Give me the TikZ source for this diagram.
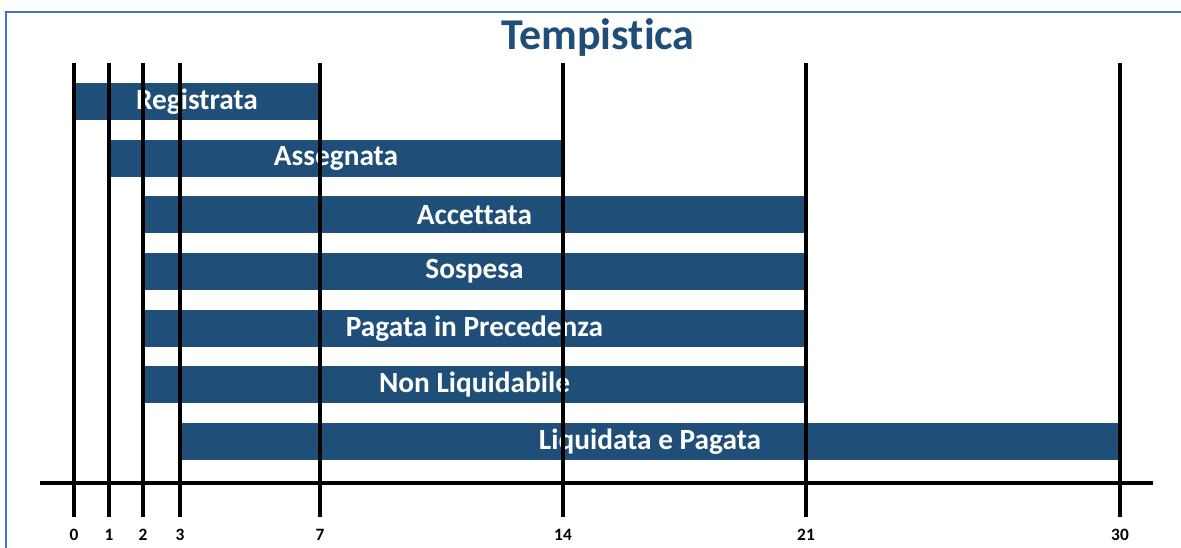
\documentclass[tikz,border=0pt]{standalone}
\usepackage{fontspec}
\setmainfont{Carlito}[Ligatures=NoCommon]
\usepackage{tikz}
\usetikzlibrary{calc,positioning}
\definecolor{darkblue}{HTML}{1F4E79}
\definecolor{frameblue}{HTML}{4472C4}

\begin{document}
\begin{tikzpicture}[x=0.75pt,y=-0.75pt]

\tikzset{barnode/.style={fill=darkblue,text=white,font=\fontsize{22}{22}\selectfont\bfseries,minimum height=27.75pt,inner sep=0pt},
dayline/.style={line width=3pt,black},
daylabel/.style={font=\fontsize{13}{13}\selectfont\bfseries,inner sep=0pt}}

\useasboundingbox (0,0) rectangle (1181,548);

% Frame
\draw[frameblue,line width=1.5pt] (6,548) -- (6,12) -- (1181,12);

% Title
\node[font=\fontsize{33}{33}\selectfont\bfseries,text=darkblue] (title) at (598,38) {Tempistica};

% Bars
\foreach \row/\xa/\xb/\txt in {0/74/320/Registrata,1/109/563/Assegnata,2/143/806/Accettata,3/143/806/Sospesa,4/143/806/Pagata in Precedenza,5/143/806/Non Liquidabile,6/180/1120/Liquidata e Pagata}
  \node[barnode,minimum width={(\xb-\xa)*0.75pt}] (bar\row) at ({(\xa+\xb)/2},{101.5+56.7*\row}) {\txt};

% Day lines
\foreach \d/\x in {0/74,1/109,2/143,3/180,7/320,14/563,21/806,30/1120} {
  \coordinate (top\d) at (\x,63);
  \coordinate (bot\d) at (\x,517);
  \draw[dayline] (top\d) -- (bot\d);
  \node[daylabel] (lab\d) at (\x,535) {\d};
}

% Axis
\coordinate (axl) at (40,483);
\coordinate (axr) at (1153,483);
\draw[dayline] (axl) -- (axr);

\end{tikzpicture}
\end{document}
